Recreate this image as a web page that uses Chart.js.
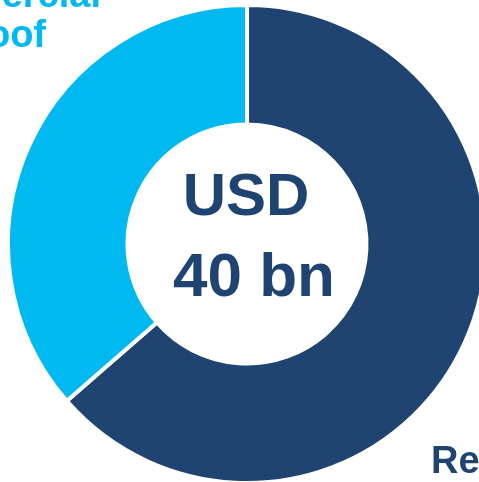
<!DOCTYPE html>
<html>
<head>
<meta charset="utf-8">
<script src="https://cdn.jsdelivr.net/npm/chart.js@4/dist/chart.umd.min.js"></script>
<style>
  html, body { margin: 0; padding: 0; background: #fff; overflow: hidden; }
  #wrap { position: absolute; left: 0; top: 0; width: 500px; height: 500px; }
</style>
</head>
<body>
<div id="wrap"><canvas id="marketChart"></canvas></div>
<script>
// market split by segment, share of total (%)
const segments = ['Residential', 'Commercial roof'];
const shares = [63.6, 36.4];
const segmentColors = ['#1f4471', '#00b9f1'];
const totalLines = ['USD', '40 bn'];

const FONT = '"Liberation Sans", Arial, sans-serif';

// labels sit outside the ring, partly past the page edge
const labelLayout = [
  { lines: ['Residential'], x: 431, y: 473, align: 'left' },
  { lines: ['Commercial', 'roof'], x: [101, 46], y: 7, align: 'right' }
];

const ringText = {
  id: 'ringText',
  afterDraw(chart) {
    const ctx = chart.ctx;
    const arc = chart.getDatasetMeta(0).data[0];
    const cx = arc.x, cy = arc.y;
    ctx.save();
    ctx.fillStyle = segmentColors[0];
    ctx.textAlign = 'center';
    ctx.textBaseline = 'alphabetic';
    ctx.font = 'bold 60px ' + FONT;
    ctx.fillText(totalLines[0], cx - 1, cy - 29);
    ctx.font = 'bold 62px ' + FONT;
    ctx.fillText(totalLines[1], cx + 7, cy + 52);

    ctx.font = 'bold 38px ' + FONT;
    labelLayout.forEach((lab, i) => {
      ctx.fillStyle = segmentColors[i];
      ctx.textAlign = lab.align;
      lab.lines.forEach((line, j) => {
        const x = Array.isArray(lab.x) ? lab.x[j] : lab.x;
        ctx.fillText(line, x, lab.y + j * 40);
      });
    });
    ctx.restore();
  }
};

new Chart(document.getElementById('marketChart'), {
  type: 'doughnut',
  data: {
    labels: segments,
    datasets: [{
      data: shares,
      backgroundColor: segmentColors,
      borderColor: '#ffffff',
      borderWidth: 4
    }]
  },
  options: {
    responsive: true,
    maintainAspectRatio: false,
    animation: false,
    cutout: '50%',
    layout: { padding: { left: 6, top: 3, right: 12, bottom: 15 } },
    plugins: { legend: { display: false }, tooltip: { enabled: false } }
  },
  plugins: [ringText]
});
</script>
</body>
</html>
